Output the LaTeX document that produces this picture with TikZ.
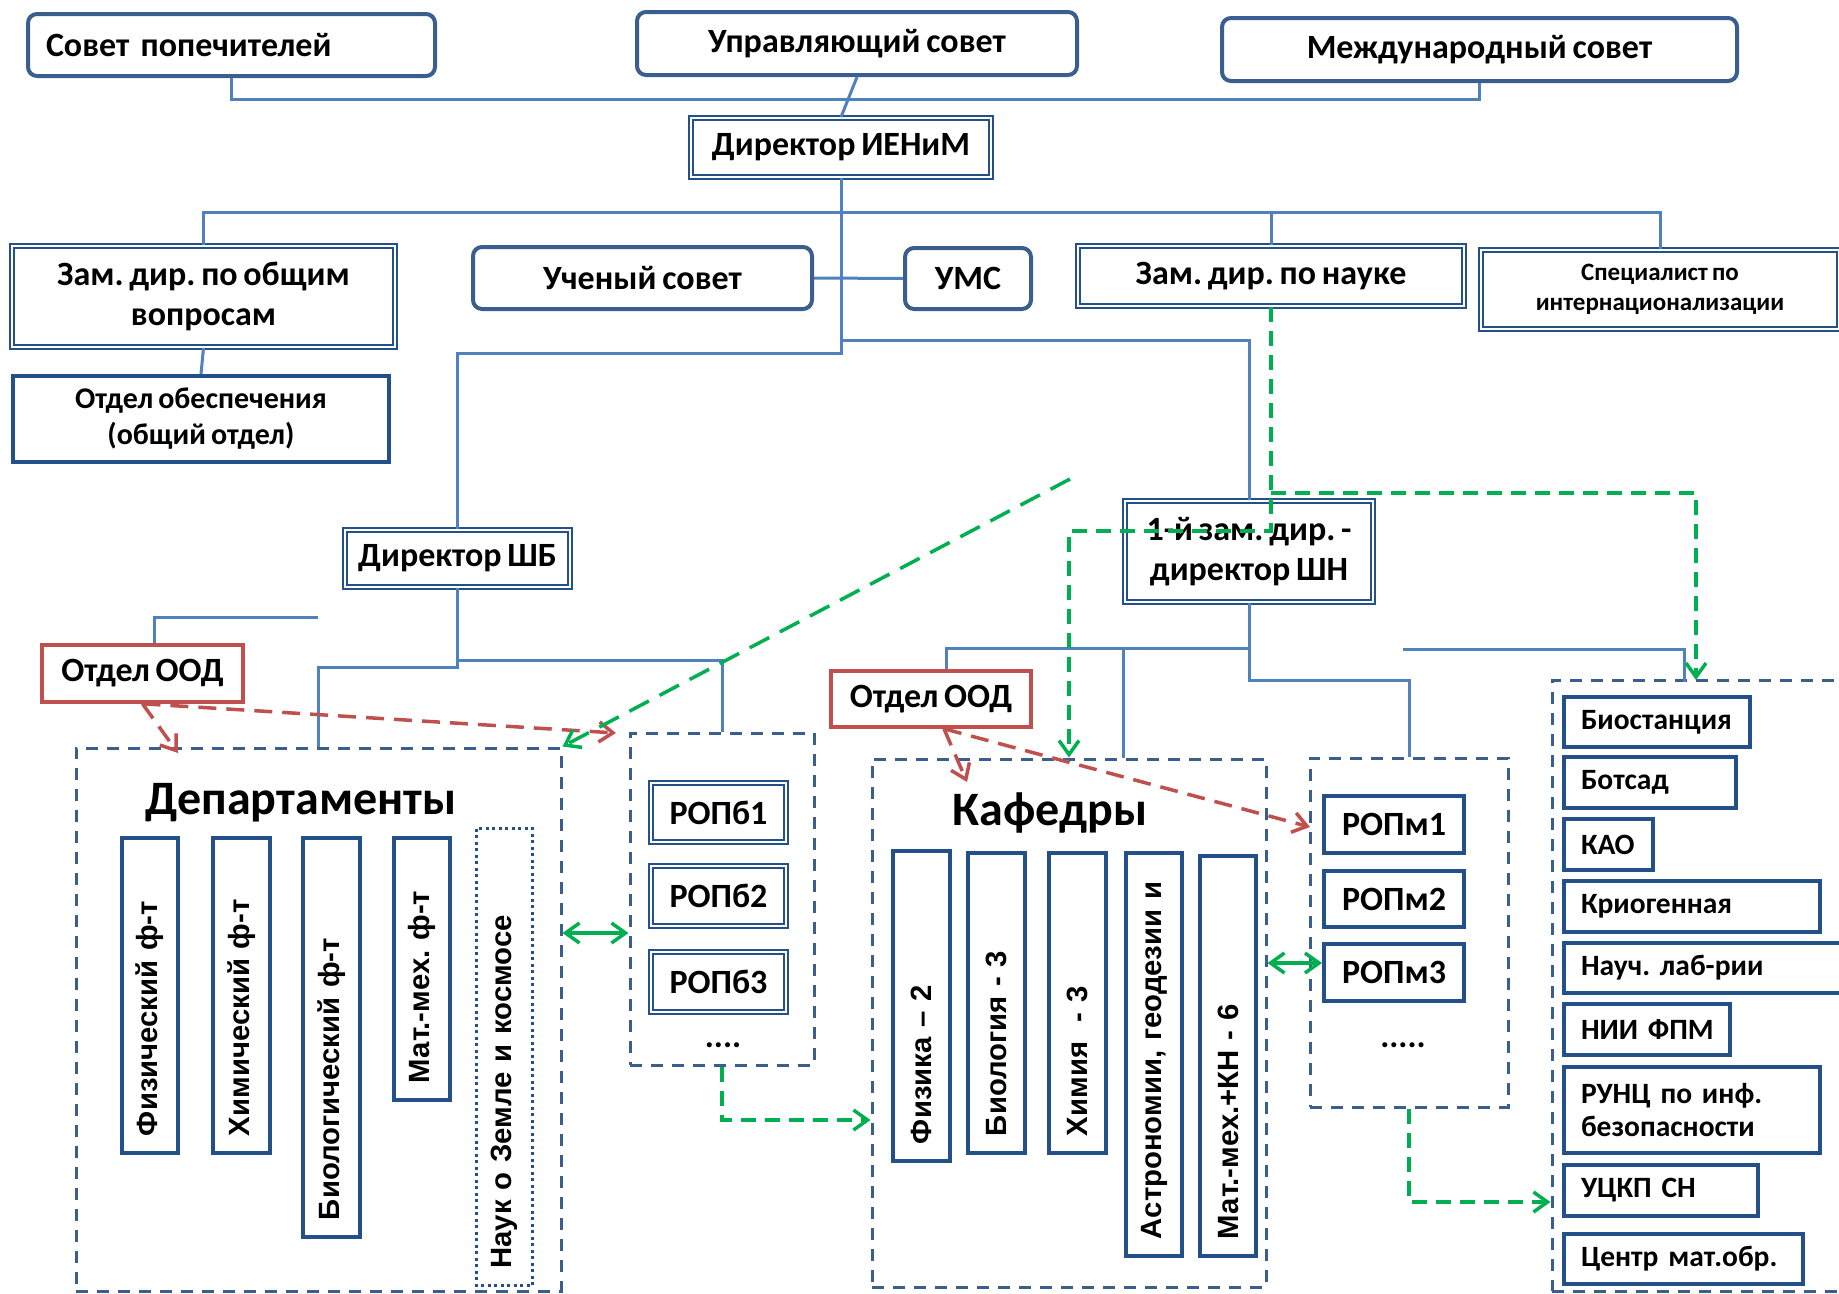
\documentclass[tikz,border=0pt]{standalone}
\usepackage{fontspec}
\setmainfont{Carlito}[WordSpace=0.75]
\newfontfamily\arialfont{Liberation Sans}
\usepackage{xcolor}
\definecolor{orgblue}{HTML}{3A5F8F}
\definecolor{navy}{HTML}{24508A}
\definecolor{linkblue}{HTML}{4F81BD}
\definecolor{oodred}{HTML}{C0504D}
\definecolor{linkgreen}{HTML}{00B050}
\usetikzlibrary{arrows.meta,calc}
\frenchspacing
\tikzset{
  nb/.style={draw, align=center, inner sep=0pt, text=black,
             font=\bfseries\fontsize{34}{40}\selectfont},
  nround/.style={nb, draw=orgblue, line width=4pt, rounded corners=9pt},
  ndouble/.style={nb, draw=navy, line width=1.8pt, double, double distance=2.6pt},
  nrect/.style={nb, draw=navy, line width=4pt},
  nred/.style={nb, draw=oodred, line width=3.5pt, font=\bfseries\fontsize{34}{40}\selectfont},
  nleft/.style={nrect, align=left, inner xsep=17pt, font=\bfseries\fontsize{29.5}{33}\selectfont},
  nvert/.style={nb, draw=navy, line width=4pt, rotate=90, align=left, inner xsep=17pt,
                font=\arialfont\bfseries\fontsize{29.3}{32}\selectfont},
  ntitle/.style={nb, draw=none, font=\bfseries\fontsize{48}{52}\selectfont},
  group/.style={draw=orgblue, line width=3pt, dash pattern=on 12pt off 9pt},
  conn/.style={draw=linkblue, line width=3pt},
  gdash/.style={draw=linkgreen, line width=3.5pt, dash pattern=on 15pt off 9pt},
  glong/.style={draw=linkgreen, line width=3.5pt, dash pattern=on 22pt off 12pt},
  rdash/.style={draw=oodred, line width=3.5pt, dash pattern=on 18pt off 10pt},
  ar/.style={-{Straight Barb[length=14pt,width=20pt]}},
  arr/.style={{Straight Barb[length=14pt,width=20pt]}-{Straight Barb[length=14pt,width=20pt]}},
}

\begin{document}
\begin{tikzpicture}[x=1pt,y=-1pt]
  \clip (0,0) rectangle (1839,1293);

  \node[nround, text width=371pt, align=left, inner xsep=18pt, minimum height=62pt] (sp) at (231.5,45) {Совет попечителей};
  \node[nround, minimum width=440pt, minimum height=63pt] (uc) at (857,43.5) {Управляющий совет};
  \node[nround, minimum width=515pt, minimum height=63pt] (md) at (1479.5,49.5) {Международный совет};
  \node[ndouble, minimum width=300pt, minimum height=59pt] (dir) at (841,147.5) {Директор ИЕНиМ};

  \node[ndouble, minimum width=383pt, minimum height=101pt] (zob) at (203.5,296.5) {Зам. дир. по общим\\вопросам};
  \node[nround, minimum width=339pt, minimum height=62pt] (us) at (642.5,278) {Ученый совет};
  \node[nround, minimum width=126pt, minimum height=61pt] (ums) at (968,278.5) {УМС};
  \node[ndouble, minimum width=386pt, minimum height=60pt] (zn) at (1271,276) {Зам. дир. по науке};
  \node[ndouble, minimum width=358pt, minimum height=79pt, font=\bfseries\fontsize{25}{30}\selectfont] (spec) at (1660,289.5) {Специалист по\\интернационализации};
  \node[nrect, minimum width=376pt, minimum height=86pt, font=\bfseries\fontsize{30}{36}\selectfont] (oo) at (201,419) {Отдел обеспечения\\(общий отдел)};

  \node[ndouble, minimum width=225pt, minimum height=57pt] (dsb) at (457.5,558.5) {Директор ШБ};
  \node[ndouble, minimum width=248pt, minimum height=101pt] (fz) at (1249,551.5) {1-й зам. дир. -\\директор ШН};
  \node[nred, minimum width=201pt, minimum height=57pt] (ood1) at (142.5,673.5) {Отдел ООД};
  \node[nred, minimum width=200pt, minimum height=56pt] (ood2) at (931,699) {Отдел ООД};

  \node[group, minimum width=485pt, minimum height=543pt] (dep) at (318.5,1019.5) {};
  \node[group, minimum width=184pt, minimum height=332pt] (ropb) at (722,899) {};
  \node[group, minimum width=394pt, minimum height=528pt] (kaf) at (1069,1023) {};
  \node[group, minimum width=198pt, minimum height=349pt] (ropm) at (1409,932.5) {};
  \node[group, minimum width=308pt, minimum height=611pt] (labs) at (1706,985.5) {};

  \node[ntitle] (deptitle) at (301,803) {Департаменты};
  \node[nvert, text width=281pt, minimum height=56pt] (fac1) at (150,995.5) {Физический ф-т};
  \node[nvert, text width=281pt, minimum height=57pt] (fac2) at (241.5,995.5) {Химический ф-т};
  \node[nvert, text width=365pt, minimum height=57pt] (fac3) at (331.5,1037.5) {Биологический ф-т};
  \node[nvert, text width=228pt, minimum height=56pt] (fac4) at (422,969) {Мат.-мех. ф-т};
  \node[nvert, line width=3pt, dash pattern=on 3pt off 3.5pt, text width=423pt, minimum height=56pt] (fac5) at (504.5,1057) {Наук о Земле и космосе};

  \node[ndouble, minimum width=135pt, minimum height=59pt] (rb1) at (718.5,812.5) {РОПб1};
  \node[ndouble, minimum width=135pt, minimum height=60pt] (rb2) at (718.5,896) {РОПб2};
  \node[ndouble, minimum width=135pt, minimum height=60pt] (rb3) at (718.5,982) {РОПб3};
  \node[nb, draw=none] (rbdots) at (723,1045) {....};

  \node[ntitle] (kaftitle) at (1050,813) {Кафедры};
  \node[nvert, text width=276pt, minimum height=57pt] (kf1) at (921.5,1006) {Физика – 2};
  \node[nvert, text width=266pt, minimum height=57pt] (kf2) at (996.5,1003) {Биология - 3};
  \node[nvert, text width=266pt, minimum height=57pt] (kf3) at (1077.5,1003) {Химия\ \ - 3};
  \node[nvert, text width=369pt, minimum height=56pt] (kf4) at (1154,1054.5) {Астрономии, геодезии и};
  \node[nvert, text width=366pt, minimum height=56pt] (kf5) at (1228,1056) {Мат.-мех.+КН - 6};

  \node[nrect, minimum width=140pt, minimum height=57pt] (rm1) at (1394,824.5) {РОПм1};
  \node[nrect, minimum width=140pt, minimum height=56pt] (rm2) at (1394,899) {РОПм2};
  \node[nrect, minimum width=140pt, minimum height=57pt] (rm3) at (1394,972.5) {РОПм3};
  \node[nb, draw=none] (rmdots) at (1403,1045) {.....};

  \node[nleft, text width=152pt, minimum height=50pt] (bio) at (1657,722) {Биостанция};
  \node[nleft, text width=138pt, minimum height=51pt] (bot) at (1650,782.5) {Ботсад};
  \node[nleft, text width=55pt, minimum height=51pt] (kao) at (1608.5,844.5) {\mbox{КАО}};
  \node[nleft, text width=222pt, minimum height=51pt] (krio) at (1692,906.5) {Криогенная};
  \node[nleft, text width=252pt, minimum height=50pt] (lab) at (1707,968) {Науч. лаб-рии};
  \node[nleft, text width=132pt, minimum height=51pt] (nii) at (1647,1029.5) {\mbox{НИИ ФПМ}};
  \node[nleft, text width=222pt, minimum height=86pt] (runc) at (1692,1110) {РУНЦ по инф.\\безопасности};
  \node[nleft, text width=160pt, minimum height=51pt] (uckp) at (1661,1190.5) {УЦКП СН};
  \node[nleft, text width=205pt, minimum height=50pt] (cmo) at (1683.5,1259) {\mbox{Центр мат.обр.}};

  \coordinate (busA) at (0,99);
  \coordinate (busB) at (0,212);
  \coordinate (busC) at (0,340);
  \coordinate (busD) at (0,353);
  \coordinate (busE) at (0,660);
  \coordinate (busF) at (0,667);
  \coordinate (busG) at (0,648);
  \coordinate (busH) at (0,680);
  \coordinate (busI) at (0,531);
  \coordinate (busJ) at (0,493);
  \coordinate (busK) at (0,1120);
  \coordinate (busL) at (0,1202);
  \coordinate (busM) at (0,933);
  \coordinate (busN) at (0,963);
  \coordinate (stub1) at (318,617);
  \coordinate (stub2) at (1403,649);
  \coordinate (labjoin) at (1684,682);
  \coordinate (labin) at (1696,680);
  \coordinate (kafjoin) at ($(kaf.north)+(54,0)$);
  \coordinate (gstart) at (1070,479);
  \coordinate (r1end) at (178,753);
  \coordinate (r2end) at (616,733);
  \coordinate (r3end) at (967,782);
  \coordinate (r4end) at (1310,827);

  \draw[conn] (sp.south) -- (sp.south |- busA) -- (md.south |- busA) -- (md.south);
  \draw[conn] (uc.south) -- (dir.north);
  \draw[conn] (zob.north) -- (zob.north |- busB) -- (spec.north |- busB) -- (spec.north);
  \draw[conn] (zn.north) -- (zn.north |- busB);
  \draw[conn] (zob.south) -- (oo.north);
  \draw[conn] (us.east) -- (ums.west);
  \draw[conn] (dir.south) -- (dir.south |- busD) -| (dsb.north);
  \draw[conn] (dir.south |- busC) -| (fz.north);
  \draw[conn] (dsb.south) -- (dsb.south |- busF) -| (dep.north);
  \draw[conn] (dsb.south |- busE) -| (ropb.north);
  \draw[conn] ([xshift=12pt]ood1.north) |- (stub1);
  \draw[conn] (fz.south) -- (fz.south |- busH) -| (ropm.north);
  \draw[conn] (fz.south |- busG) -| ([xshift=15pt]ood2.north);
  \draw[conn] (kafjoin) -- (kafjoin |- busG);
  \draw[conn] (stub2) -| (labjoin);

  \draw[rdash, ar] (ood1.south) -- (r1end);
  \draw[rdash, ar] (ood1.south) -- (r2end);
  \draw[rdash, ar] ([xshift=13pt]ood2.south) -- (r3end);
  \draw[rdash, ar] ([xshift=13pt]ood2.south) -- (r4end);

  \draw[glong, ar] (gstart) -- (dep.north east);
  \draw[gdash, ar] (zn.south) -- (zn.south |- busI) -| (kaf.north);
  \draw[gdash, ar] (zn.south |- busJ) -| (labin);
  \draw[gdash, ar] (ropb.south) |- (kaf.west |- busK);
  \draw[gdash, ar] (ropm.south) |- (labs.west |- busL);
  \draw[linkgreen, line width=3.5pt, arr] (dep.east |- busM) -- (ropb.west |- busM);
  \draw[linkgreen, line width=3.5pt, arr] (kaf.east |- busN) -- (rm3.west |- busN);
\end{tikzpicture}
\end{document}
